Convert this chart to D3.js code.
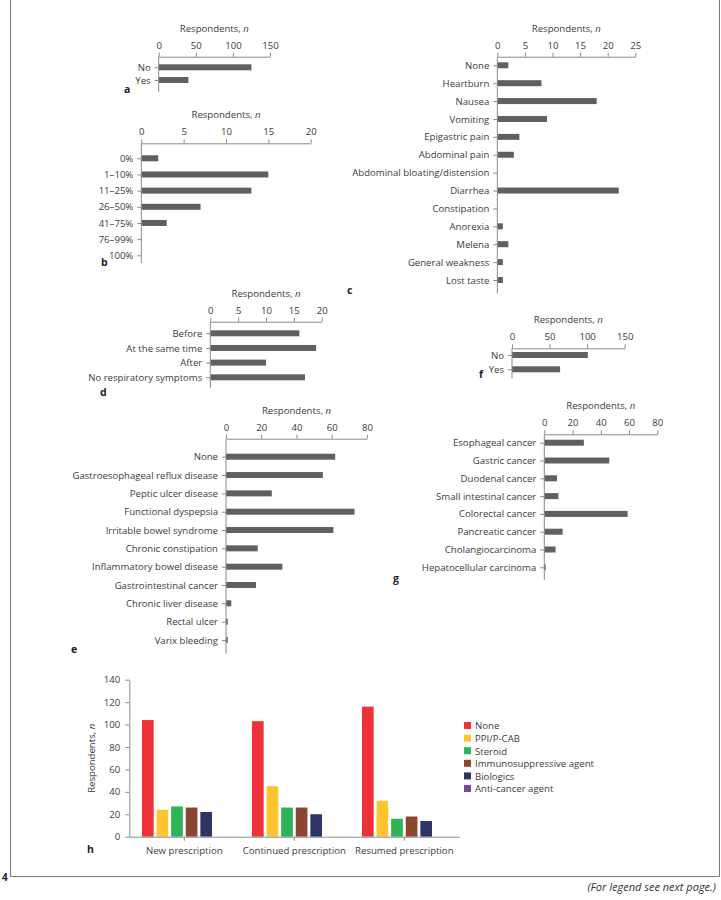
<!DOCTYPE html>
<html>
<head>
<meta charset="utf-8">
<script src="https://cdn.jsdelivr.net/npm/d3@7"></script>
<style>
  html, body { margin: 0; padding: 0; background: #fff; }
  svg { display: block; }
  text { font-family: "Open Sans", "Noto Sans", sans-serif; }
</style>
</head>
<body>
<svg id="chart" width="721" height="900"></svg>
<script>
// ---------------- DATA ----------------
const aCats = ["No", "Yes"];
const aVals = [125, 40];
const aTicks = [0, 50, 100, 150];

const bCats = ["0%", "1–10%", "11–25%", "26–50%", "41–75%", "76–99%", "100%"];
const bVals = [2, 15, 13, 7, 3, 0, 0];
const bTicks = [0, 5, 10, 15, 20];

const cCats = ["None", "Heartburn", "Nausea", "Vomiting", "Epigastric pain", "Abdominal pain",
  "Abdominal bloating/distension", "Diarrhea", "Constipation", "Anorexia", "Melena",
  "General weakness", "Lost taste"];
const cVals = [2, 8, 18, 9, 4, 3, 0, 22, 0, 1, 2, 1, 1];
const cTicks = [0, 5, 10, 15, 20, 25];

const dCats = ["Before", "At the same time", "After", "No respiratory symptoms"];
const dVals = [16, 19, 10, 17];
const dTicks = [0, 5, 10, 15, 20];

const eCats = ["None", "Gastroesophageal reflux disease", "Peptic ulcer disease", "Functional dyspepsia",
  "Irritable bowel syndrome", "Chronic constipation", "Inflammatory bowel disease",
  "Gastrointestinal cancer", "Chronic liver disease", "Rectal ulcer", "Varix bleeding"];
const eVals = [62, 55, 26, 73, 61, 18, 32, 17, 3, 1, 1];
const eTicks = [0, 20, 40, 60, 80];

const fCats = ["No", "Yes"];
const fVals = [101, 64];
const fTicks = [0, 50, 100, 150];

const gCats = ["Esophageal cancer", "Gastric cancer", "Duodenal cancer", "Small intestinal cancer",
  "Colorectal cancer", "Pancreatic cancer", "Cholangiocarcinoma", "Hepatocellular carcinoma"];
const gVals = [28, 46, 9, 10, 59, 13, 8, 1];
const gTicks = [0, 20, 40, 60, 80];

const hGroups = ["New prescription", "Continued prescription", "Resumed prescription"];
const hSeries = ["None", "PPI/P-CAB", "Steroid", "Immunosuppressive agent", "Biologics", "Anti-cancer agent"];
const hNone = [104, 103, 116];
const hPPI = [24, 45, 32];
const hSteroid = [27, 26, 16];
const hImmuno = [26, 26, 18];
const hBiologics = [22, 20, 14];
const hAntiCancer = [0, 0, 0];
const hTicks = [0, 20, 40, 60, 80, 100, 120, 140];
const hColors = ["#ee3239", "#fdc62e", "#2cb457", "#8b4632", "#2e3464", "#7a469c"];

// ---------------- STYLE ----------------
const TEXT = "#3c3c3c";
const AXIS = "#8a8a8a";
const BAR = "#606060";
const FS = 9.6;

const svg = d3.select("#chart");

// frame
const frame = svg.append("g").attr("fill", "none").attr("stroke", "#555").attr("stroke-width", 0.8);
frame.append("path").attr("d", d3.line()([[10.5, 0], [10.5, 876.5], [719.5, 876.5], [719.5, 0]]));
svg.append("text").attr("x", 2).attr("y", 881).attr("font-size", 10).attr("font-weight", "bold")
  .attr("fill", "#222").text("4");
svg.append("text").attr("x", 716).attr("y", 891).attr("text-anchor", "end")
  .attr("font-family", "'Liberation Serif', serif").attr("font-style", "italic")
  .attr("font-size", 11).attr("fill", "#333").text("(For legend see next page.)");

function styleAxis(g) {
  g.selectAll("path.domain").attr("stroke", AXIS).attr("stroke-width", 1);
  g.selectAll(".tick line").attr("stroke", AXIS).attr("stroke-width", 1);
  g.selectAll(".tick text").attr("fill", TEXT).attr("font-size", FS)
    .attr("font-family", "'Open Sans', sans-serif");
}

function hbarPanel(cfg) {
  const g = svg.append("g");
  const x = d3.scaleLinear().domain([0, cfg.max]).range([cfg.x0, cfg.x1]);
  const y = d3.scalePoint().domain(cfg.cats).range([cfg.first, cfg.last]);
  const bh = 6;

  // title
  const t = g.append("text").attr("x", (cfg.x0 + cfg.x1) / 2).attr("y", cfg.axisY - 25)
    .attr("text-anchor", "middle").attr("font-size", FS).attr("fill", TEXT);
  t.append("tspan").text("Respondents, ");
  t.append("tspan").attr("font-style", "italic").text("n");

  // top axis
  const ax = g.append("g").attr("transform", `translate(0,${cfg.axisY})`)
    .call(d3.axisTop(x).tickValues(cfg.ticks).tickSize(4).tickSizeOuter(0).tickPadding(4));
  styleAxis(ax);

  // bars
  g.selectAll("rect.bar").data(cfg.cats).join("rect")
    .attr("x", cfg.x0)
    .attr("y", d => y(d) - bh / 2)
    .attr("width", (d, i) => x(cfg.vals[i]) - x(0))
    .attr("height", bh)
    .attr("fill", BAR);

  // vertical axis line
  g.append("line").attr("x1", x(0)).attr("x2", x(0)).attr("y1", cfg.axisY).attr("y2", cfg.end)
    .attr("stroke", AXIS).attr("stroke-width", 1);

  // category ticks + labels
  const yl = g.append("g").attr("transform", `translate(${x(0)},0)`)
    .call(d3.axisLeft(y).tickSize(4).tickPadding(4).tickSizeOuter(0));
  yl.select("path.domain").remove();
  styleAxis(yl);

  // panel letter
  g.append("text").attr("x", cfg.lx).attr("y", cfg.ly).attr("font-size", 10.5)
    .attr("font-weight", "bold").attr("fill", "#222").text(cfg.letter);
}

hbarPanel({ cats: aCats, vals: aVals, ticks: aTicks, max: 150, x0: 158.7, x1: 270, axisY: 56.7,
  first: 67.3, last: 80, end: 92, letter: "a", lx: 124, ly: 93 });
hbarPanel({ cats: bCats, vals: bVals, ticks: bTicks, max: 20, x0: 141.3, x1: 310.7, axisY: 143.3,
  first: 158.3, last: 255.3, end: 263, letter: "b", lx: 101, ly: 266 });
hbarPanel({ cats: cCats, vals: cVals, ticks: cTicks, max: 25, x0: 497.3, x1: 635.3, axisY: 56.7,
  first: 65.3, last: 280, end: 293.5, letter: "c", lx: 347, ly: 294 });
hbarPanel({ cats: dCats, vals: dVals, ticks: dTicks, max: 20, x0: 210.3, x1: 321.7, axisY: 321.7,
  first: 333.3, last: 377.3, end: 388, letter: "d", lx: 100, ly: 396 });
hbarPanel({ cats: eCats, vals: eVals, ticks: eTicks, max: 80, x0: 226, x1: 366.9, axisY: 438.7,
  first: 456.7, last: 640, end: 653.5, letter: "e", lx: 71, ly: 653 });
hbarPanel({ cats: fCats, vals: fVals, ticks: fTicks, max: 150, x0: 512, x1: 624.7, axisY: 348.3,
  first: 355, last: 369.3, end: 378.5, letter: "f", lx: 479, ly: 378 });
hbarPanel({ cats: gCats, vals: gVals, ticks: gTicks, max: 80, x0: 544.3, x1: 657.3, axisY: 434.3,
  first: 442.7, last: 567.3, end: 580, letter: "g", lx: 393, ly: 582 });

// ---------------- PANEL h ----------------
(function () {
  const g = svg.append("g");
  const seriesVals = [hNone, hPPI, hSteroid, hImmuno, hBiologics, hAntiCancer];
  const x0 = d3.scaleBand().domain(hGroups).range([129.3, 459.3]).padding(0);
  const x1 = d3.scaleBand().domain(hSeries).range([0, x0.bandwidth()])
    .paddingInner(0.2).paddingOuter(0.87);
  const y = d3.scaleLinear().domain([0, 140]).range([836.7, 679.7]);

  hGroups.forEach((grp, gi) => {
    g.append("g").attr("transform", `translate(${x0(grp)},0)`)
      .selectAll("rect").data(hSeries).join("rect")
      .attr("x", s => x1(s))
      .attr("y", (s, si) => y(seriesVals[si][gi]))
      .attr("width", x1.bandwidth())
      .attr("height", (s, si) => y(0) - y(seriesVals[si][gi]))
      .attr("fill", (s, si) => hColors[si]);
  });

  const ya = g.append("g").attr("transform", `translate(129.3,0)`)
    .call(d3.axisLeft(y).tickValues(hTicks).tickSize(4).tickPadding(5).tickSizeOuter(0));
  styleAxis(ya);

  const xa = g.append("g").attr("transform", `translate(0,836.7)`)
    .call(d3.axisBottom(x0).tickSize(4).tickPadding(6).tickSizeOuter(0));
  styleAxis(xa);

  const yt = g.append("text")
    .attr("transform", `translate(95,758.3) rotate(-90)`)
    .attr("text-anchor", "middle").attr("font-size", FS).attr("fill", TEXT);
  yt.append("tspan").text("Respondents, ");
  yt.append("tspan").attr("font-style", "italic").text("n");

  g.append("text").attr("x", 87).attr("y", 853).attr("font-size", 10.5)
    .attr("font-weight", "bold").attr("fill", "#222").text("h");

  // legend
  const leg = g.append("g").attr("transform", "translate(464,722)");
  const items = leg.selectAll("g").data(hSeries).join("g")
    .attr("transform", (d, i) => `translate(0,${i * 12.6})`);
  items.append("rect").attr("width", 7).attr("height", 7).attr("fill", (d, i) => hColors[i]);
  items.append("text").attr("x", 11).attr("y", 7.3).attr("font-size", FS).attr("fill", TEXT).text(d => d);
})();
</script>
</body>
</html>
